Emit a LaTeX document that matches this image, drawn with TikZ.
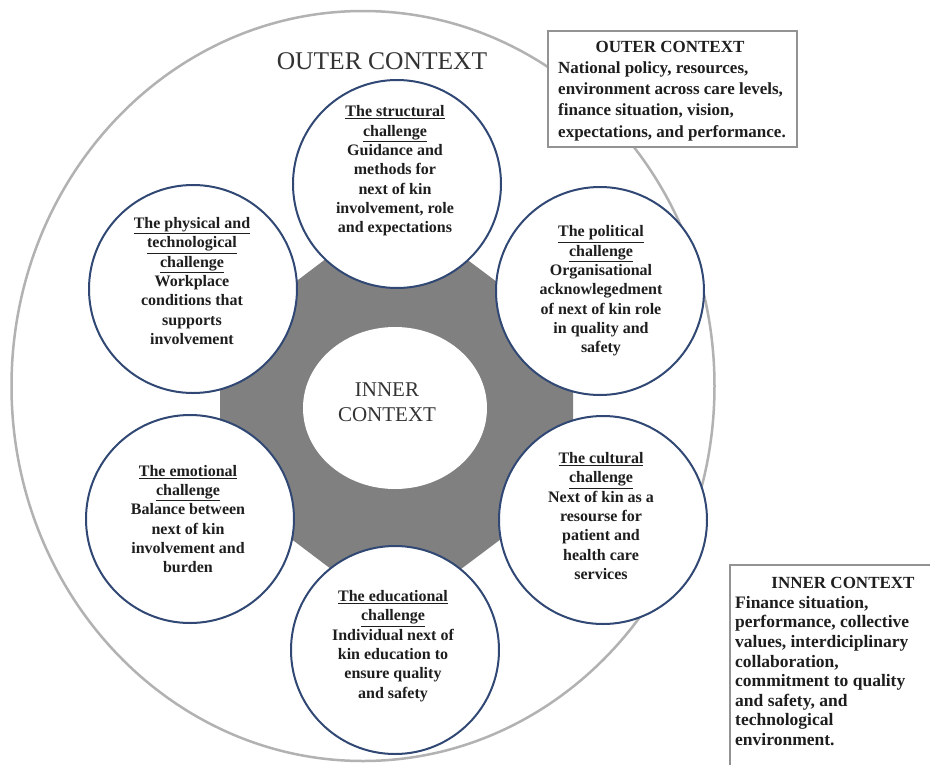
\documentclass[tikz,border=0pt]{standalone}
\usepackage{fontspec}
\setmainfont{Liberation Serif}
\usetikzlibrary{shapes.geometric}
\definecolor{ringblue}{RGB}{48,72,115}
\definecolor{octgray}{RGB}{128,128,128}
\definecolor{txt}{RGB}{30,30,30}
\begin{document}
\begin{tikzpicture}[x=1pt,y=-1pt,
  challenge/.style={circle,draw=ringblue,line width=2pt,fill=white,minimum size=208pt,inner sep=0pt},
  ctext/.style={align=center,text=txt,font=\fontsize{16}{19.3}\selectfont\bfseries,inner sep=0pt},
  infobox/.style={draw=gray!85,line width=1.4pt,fill=white},
  btext/.style={align=left,text=txt,inner sep=0pt,anchor=west}]
\useasboundingbox (0,0) rectangle (930,764);
\fill[white] (0,0) rectangle (930,764);
% outer context ellipse
\node[ellipse,draw=gray!60,line width=2.5pt,minimum width=703pt,minimum height=750pt,inner sep=0pt] (outer) at (363,386) {};
% gray octagon
\fill[octgray] (331,255) -- (461,255) -- (573,339) -- (573,485) -- (461,569) -- (331,569) -- (220,485) -- (220,339) -- cycle;
% inner context ellipse
\node[ellipse,fill=white,minimum width=184pt,minimum height=162pt,inner sep=0pt] (inner) at (395,408) {};
\node[align=center,text=black!80,font=\fontsize{21}{25}\selectfont] (innerlbl) at (387,402) {INNER\\CONTEXT};
% outer label
\node[text=black!80,font=\fontsize{25.5}{28}\selectfont,inner sep=0pt] (outerlbl) at (382,61) {OUTER CONTEXT};
% challenge circles
\node[challenge] (c1) at (397,184) {};
\node[challenge] (c2) at (600,291) {};
\node[challenge] (c3) at (193,289) {};
\node[challenge] (c4) at (190,519) {};
\node[challenge] (c5) at (603,520) {};
\node[challenge] (c6) at (395,650) {};
\node[ctext] (t1) at (395,171) {\underline{The structural}\\\underline{challenge}\\Guidance and\\methods for\\next of kin\\involvement, role\\and expectations};
\node[ctext] (t2) at (601,291) {\underline{The political}\\\underline{challenge}\\Organisational\\acknowlegedment\\of next of kin role\\in quality and\\safety};
\node[ctext] (t3) at (192,281) {\underline{The physical and}\\\underline{technological}\\\underline{challenge}\\Workplace\\conditions that\\supports\\involvement};
\node[ctext] (t4) at (188,519) {\underline{The emotional}\\\underline{challenge}\\Balance between\\next of kin\\involvement and\\burden};
\node[ctext] (t5) at (601,516) {\underline{The cultural}\\\underline{challenge}\\Next of kin as a\\resourse for\\patient and\\health care\\services};
\node[ctext] (t6) at (393,646) {\underline{The educational}\\\underline{challenge}\\Individual next of\\kin education to\\ensure quality\\and safety};
% outer context box
\draw[infobox] (548,31) rectangle (797,147);
\node[text=txt,font=\fontsize{17}{21.5}\selectfont\bfseries,inner sep=0pt] (obt) at (670,47) {OUTER CONTEXT};
\node[btext,font=\fontsize{17}{21.3}\selectfont\bfseries] (obx) at (558,101) {National policy, resources,\\environment across care levels,\\finance situation, vision,\\expectations, and performance.};
% inner context box
\draw[infobox] (730,565) rectangle (940,775);
\node[text=txt,font=\fontsize{17}{20}\selectfont\bfseries,inner sep=0pt] (ibt) at (843,583) {INNER CONTEXT};
\node[btext,font=\fontsize{17.5}{19.6}\selectfont\bfseries] (ibx) at (735,671) {Finance situation,\\performance, collective\\values, interdiciplinary\\collaboration,\\commitment to quality\\and safety, and\\technological\\environment.};
\end{tikzpicture}
\end{document}
